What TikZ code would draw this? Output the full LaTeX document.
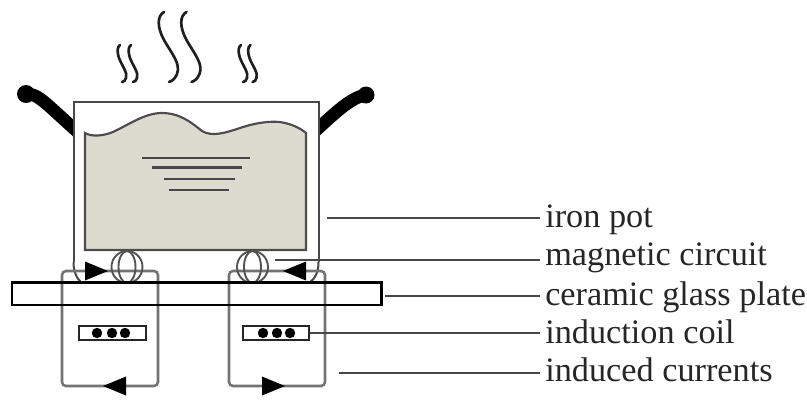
\documentclass[tikz,border=0pt]{standalone}
\usepackage{fontspec}
\setmainfont{Liberation Serif}
\definecolor{broth}{HTML}{DCDBD0}
\tikzset{
  x=0.75pt,y=-0.75pt,
  loopline/.style={draw=black!55,line width=1.9pt,rounded corners=3pt},
  potline/.style={draw=black!72,line width=1.5pt},
  leader/.style={draw=black!72,line width=1.4pt},
  steam/.style={draw=black!88,line width=2pt,line cap=round},
  handle/.style={draw=black,line width=9.5pt,line join=round},
  ripple/.style={draw=black!72,line width=1.8pt},
  ring/.style={draw=black!68,line width=1.4pt},
  tagtext/.style={anchor=base west,inner sep=0pt,font=\fontsize{25.7pt}{28pt}\selectfont,text=black!85},
  coilbox/.style={draw=black!85,line width=1.5pt,fill=white,minimum width=50pt,minimum height=10.5pt,inner sep=0pt},
  turn/.style={circle,fill=black,minimum size=7.8pt,inner sep=0pt},
  headfill/.style={fill=black}
}
\newcommand{\headright}[2]{\fill[headfill] (#1-23,#2-9.5) -- (#1,#2) -- (#1-23,#2+9.5) -- cycle;}
\newcommand{\headleft}[2]{\fill[headfill] (#1+23,#2-9.5) -- (#1,#2) -- (#1+23,#2+9.5) -- cycle;}
\newcommand{\wisp}[1]{\draw[steam,shift={(#1,0)}] (4,45) .. controls (1,47) and (1,52) .. (3,58) .. controls (6,66) and (12,73) .. (10,78) .. controls (9.5,80) and (8,82) .. (6,82);}
\begin{document}
\begin{tikzpicture}
\useasboundingbox (0,0) rectangle (807,401);
\fill[white] (0,0) rectangle (807,401);

% vapour above the pot
\wisp{116}\wisp{127}\wisp{237}\wisp{246.5}
\foreach \dx in {0,22.5}
  \draw[steam,shift={(\dx,0)}] (164,12) .. controls (157,16) and (157,27) .. (164,40) .. controls (172,54) and (181,64) .. (177,74) .. controls (175,79) and (172,81) .. (169,82);

% handles
\draw[handle] (26,94) .. controls (38,93) and (46,104) .. (80,134);
\draw[handle] (366,95) .. controls (352,97) and (338,110) .. (312,134);
\fill[black] (26,94) circle [radius=9];
\fill[black] (366,95) circle [radius=8.5];

% pot wall, running down into the plate
\draw[potline,fill=white] (73.5,262) -- (73.5,101.5) -- (318.5,101.5) -- (318.5,262);
\draw[potline] (73.5,262) .. controls (73.5,272) and (77,279) .. (82,283);
\draw[potline] (318.5,262) .. controls (318.5,272) and (315,279) .. (309,283);

% pot contents
\draw[fill=broth,draw=black!70,line width=1.6pt]
  (85,250) -- (85,133) .. controls (92,137) and (103,136) .. (113,132)
  .. controls (130,124) and (145,113) .. (162,113)
  .. controls (180,113) and (192,123) .. (202,131)
  .. controls (212,137) and (225,133) .. (240,128)
  .. controls (255,123) and (268,121) .. (280,122)
  .. controls (292,124) and (300,128) .. (306,133) -- (306,250) -- cycle;
\draw[ripple] (142,158) -- (250,158);
\draw[ripple] (152,167.5) -- (242,167.5);
\draw[ripple] (164,179) -- (235,179);
\draw[ripple] (169,190) -- (229,190);

% induced current loops
\draw[loopline] (62,283) -- (62,271) -- (158,271) -- (158,386) -- (62,386) -- cycle;
\draw[loopline] (229,283) -- (229,271) -- (325,271) -- (325,386) -- (229,386) -- cycle;

% magnetic circuit rings
\foreach \cx in {127,252.5}{
  \draw[ring] (\cx,267) ellipse [x radius=15.5,y radius=16];
  \draw[ring] (\cx,267) ellipse [x radius=8.5,y radius=16];
}

% current direction heads
\headright{108}{271}
\headleft{283}{271}
\headleft{103}{386}
\headright{285}{386}

% glass plate
\node[draw=black,line width=1.3pt,minimum width=276.7pt,minimum height=16.5pt,inner sep=0pt] (plate) at (196.5,294) {};
\draw[black,line width=2pt] (plate.north west) -- (plate.north east) -- (plate.south east);

% induction coils
\node[coilbox] (coilL) at (112.5,332.5) {};
\node[coilbox] (coilR) at (276,332.5) {};
\foreach \cx in {97,112,125,263,277,290}
  \node[turn] (t\cx) at (\cx,333) {};

% captions and leaders
\node[tagtext] (potT) at (545,227) {iron pot};
\node[tagtext] (magT) at (545,265) {magnetic circuit};
\node[tagtext] (plateT) at (545,305) {ceramic glass plate};
\node[tagtext] (coilT) at (545,343) {induction coil};
\node[tagtext] (curT) at (545,381) {induced currents};
\coordinate (potS) at (327,218);
\coordinate (magS) at (275,260);
\coordinate (plateS) at (385,296);
\coordinate (coilS) at (coilR.east |- 0,333);
\coordinate (curS) at (339,373);
\draw[leader] (potS) -- (540,218);
\draw[leader] (magS) -- (540,260);
\draw[leader] (plateS) -- (540,296);
\draw[leader] (coilS) -- (540,333);
\draw[leader] (curS) -- (540,373);
\end{tikzpicture}
\end{document}
